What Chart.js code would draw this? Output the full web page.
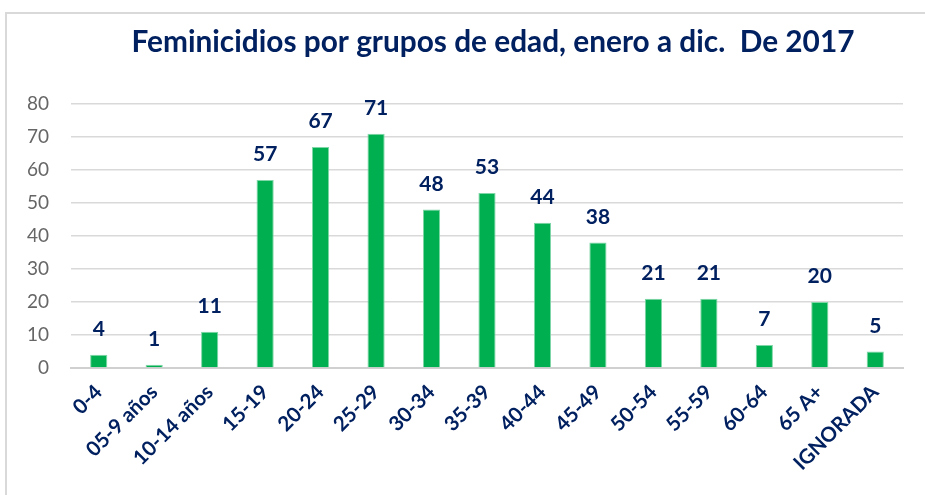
<!DOCTYPE html>
<html>
<head>
<meta charset="utf-8">
<script src="https://cdn.jsdelivr.net/npm/chart.js@4/dist/chart.umd.min.js"></script>
<style>
    html, body { margin: 0; padding: 0; background: #fff; }
    #wrap { position: relative; width: 925px; height: 495px; }
    #frame { position: absolute; left: 5px; top: 12px; width: 930px; height: 500px; border: 2px solid #d9d9d9; box-sizing: border-box; }
    #myChart { position: absolute; left: 0; top: 0; }
</style>
</head>
<body>
<div id="wrap">
    <div id="frame"></div>
    <canvas id="myChart" width="925" height="495"></canvas>
</div>
<script>
const chartTitle = 'Feminicidios por grupos de edad, enero a dic.  De 2017';
const ageGroups = ['0-4', '05-9 años', '10-14 años', '15-19', '20-24', '25-29', '30-34', '35-39',
    '40-44', '45-49', '50-54', '55-59', '60-64', '65 A+', 'IGNORADA'];
const victims = [4, 1, 11, 57, 67, 71, 48, 53, 44, 38, 21, 21, 7, 20, 5];
const yTicks = [0, 10, 20, 30, 40, 50, 60, 70, 80];

const navy = '#002060';
const green = '#00B050';
const fontFamily = 'Lato, "Open Sans", sans-serif';

// values above each bar
const barLabels = {
    id: 'barLabels',
    afterDatasetsDraw(chart) {
        const ctx = chart.ctx;
        const meta = chart.getDatasetMeta(0);
        ctx.save();
        ctx.fillStyle = navy;
        ctx.font = 'bold 21px ' + fontFamily;
        ctx.textAlign = 'center';
        ctx.textBaseline = 'bottom';
        meta.data.forEach((bar, i) => {
            ctx.fillText(String(victims[i]), bar.x, bar.y - 15);
        });
        ctx.restore();
    }
};

// title drawn a bit right of canvas center like the original
const titlePlugin = {
    id: 'titlePlugin',
    afterDraw(chart) {
        const ctx = chart.ctx;
        ctx.save();
        ctx.fillStyle = navy;
        ctx.font = 'bold 29.8px ' + fontFamily;
        ctx.textAlign = 'center';
        ctx.textBaseline = 'middle';
        ctx.fillText(chartTitle, 493, 42);
        ctx.restore();
    }
};

const ctx = document.getElementById('myChart').getContext('2d');
const myChart = new Chart(ctx, {
    type: 'bar',
    data: {
        labels: ageGroups,
        datasets: [{
            data: victims,
            backgroundColor: green,
            borderColor: '#7fd6a6',
            borderWidth: 1,
            barPercentage: 0.31,
            categoryPercentage: 1
        }]
    },
    options: {
        responsive: false,
        animation: false,
        layout: {
            padding: { top: 104, left: 20, right: 22, bottom: 0 }
        },
        plugins: {
            legend: { display: false },
            tooltip: { enabled: false },
            title: { display: false }
        },
        scales: {
            y: {
                min: 0,
                max: 80,
                afterBuildTicks(scale) {
                    scale.ticks = yTicks.map(v => ({ value: v }));
                },
                afterFit(scale) { scale.width = 51; },
                grid: { color: '#d9d9d9', lineWidth: 1.5, drawTicks: false },
                border: { display: false },
                ticks: {
                    padding: 22,
                    color: '#666666',
                    font: { family: fontFamily, size: 19 }
                }
            },
            x: {
                afterFit(scale) { scale.height = 127; },
                grid: { display: false, drawTicks: false },
                border: { color: '#d0d0d0', width: 2 },
                ticks: {
                    minRotation: 45,
                    maxRotation: 45,
                    autoSkip: false,
                    padding: 12,
                    color: navy,
                    font: { family: fontFamily, size: 20.5, weight: 'bold' }
                }
            }
        }
    },
    plugins: [barLabels, titlePlugin]
});
</script>
</body>
</html>
